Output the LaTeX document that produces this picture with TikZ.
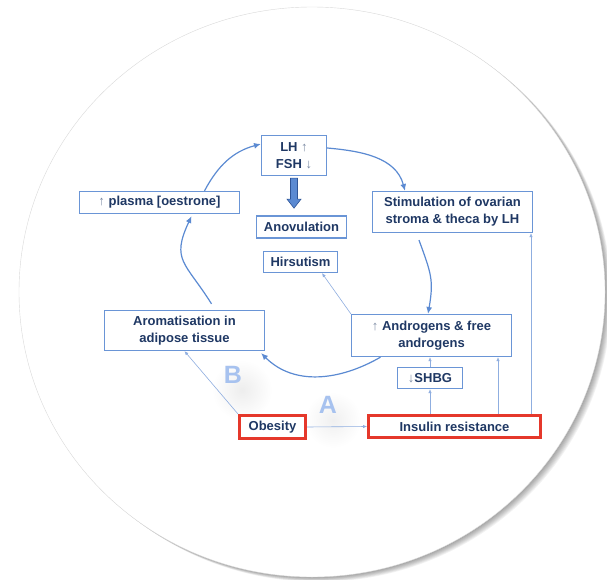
\documentclass[tikz,border=0pt]{standalone}
\usepackage{fontspec}
\setmainfont{Liberation Sans}
\usepackage{tikz}
\usetikzlibrary{arrows.meta,positioning}
\definecolor{Navy}{HTML}{1F3864}
\definecolor{BoxBlue}{HTML}{6A95D6}
\definecolor{LineBlue}{HTML}{5B8AD2}
\definecolor{DeepBlue}{HTML}{2F5597}
\definecolor{PaleBlue}{HTML}{8FAEE0}
\definecolor{KeyRed}{HTML}{E5382B}
\definecolor{LetterBlue}{HTML}{A7C2EF}
\newcommand{\incr}{{\mdseries\color{Navy!60}↑}}
\newcommand{\decr}{{\mdseries\color{Navy!60}↓}}

\begin{document}
\begin{tikzpicture}[
    x=1pt, y=1pt,
    factor/.style={
        rectangle,
        draw=BoxBlue,
        line width=1.3pt,
        fill=white,
        inner sep=0pt,
        align=center,
        text=Navy,
        font=\bfseries\fontsize{13}{17}\selectfont
    },
    keybox/.style={factor, draw=KeyRed, line width=3pt},
    arrow/.style={-{Latex[length=2.4mm, width=2.1mm]}, line width=1.2pt, draw=LineBlue},
    feed/.style={-{Latex[length=1.4mm, width=1.2mm]}, line width=0.6pt, draw=PaleBlue},
    letter/.style={font=\bfseries\fontsize{25}{25}\selectfont, text=LetterBlue}
]
    \useasboundingbox (0,0) rectangle (607,-580);

    % round backdrop with its shadow
    \foreach \s in {1,...,8}
        \fill[black, opacity=0.05] (312+\s*0.8,-292-\s*0.6) ellipse [x radius=293, y radius=285];
    \fill[white, draw=black!15, line width=0.4pt] (312,-292) ellipse [x radius=293, y radius=285];
    \shade[inner color=black!7, outer color=white] (242,-390) circle (30);
    \shade[inner color=black!6, outer color=white] (333,-420) circle (28);

    \node[factor, minimum width=65pt, minimum height=40pt] (lhfsh) at (294,-155.5) {LH \incr\\FSH \decr};
    \node[factor, minimum width=160pt, minimum height=22pt] (oestrone) at (159.5,-202.5) {\incr{} plasma [oestrone]};
    \node[factor, minimum width=90pt, minimum height=22pt] (anov) at (301.5,-227) {Anovulation};
    \node[factor, minimum width=160pt, minimum height=41pt] (stim) at (452.5,-212) {Stimulation of ovarian\\stroma \& theca by LH};
    \node[factor, minimum width=74pt, minimum height=21pt] (hirs) at (300.5,-262) {Hirsutism};
    \node[factor, minimum width=160pt, minimum height=40pt] (arom) at (184.5,-330.5) {Aromatisation in\\adipose tissue};
    \node[factor, minimum width=160pt, minimum height=42pt] (andr) at (431.5,-335.5) {\incr{} Androgens \& free\\androgens};
    \node[factor, minimum width=65pt, minimum height=21pt] (shbg) at (430,-378) {\decr SHBG};
    \node[keybox, minimum width=66pt, minimum height=23pt] (obes) at (272.5,-427) {Obesity};
    \node[keybox, minimum width=172pt, minimum height=22pt] (insul) at (454.5,-426.5) {Insulin resistance};

    \node[letter] (labB) at (233,-375) {B};
    \node[letter] (labA) at (328,-405) {A};

    % the cycle
    \draw[arrow] ([xshift=45pt]oestrone.north) to[out=62, in=195] ([yshift=11.5pt]lhfsh.west);
    \draw[arrow] ([yshift=7.5pt]lhfsh.east) to[out=-5, in=105] ([xshift=-47.5pt]stim.north);
    \draw[arrow] ([xshift=-33.5pt, yshift=-7pt]stim.south) to[out=-70, in=80, looseness=1.2] ([xshift=-3.5pt]andr.north);
    \draw[arrow] ([xshift=-51pt]andr.south) to[out=-150, in=-45] ([xshift=-4pt, yshift=-2pt]arom.south east);
    \draw[arrow] ([xshift=27pt, yshift=6pt]arom.north) to[out=122, in=-115, looseness=1.4] ([xshift=32pt, yshift=-2pt]oestrone.south);

    % block arrow to anovulation
    \filldraw[draw=DeepBlue, fill=LineBlue, line width=0.6pt]
        ([xshift=-3.5pt, yshift=-2pt]lhfsh.south) -- ++(0,-21) -- ++(-3.5,0) -- ++(7,-9)
        -- ++(7,9) -- ++(-3.5,0) -- ++(0,21) -- cycle;

    % thin links
    \draw[feed] (andr.north west) -- ([xshift=21.5pt]hirs.south);
    \draw[feed] (obes.north west) -- (arom.south);
    \draw[feed] (obes.east) -- (insul.west);
    \draw[feed] (insul.north -| shbg.south) -- (shbg.south);
    \draw[feed] (shbg.north) -- (shbg.north |- andr.south);
    \draw[feed] ([xshift=43.5pt]insul.north) -- ([xshift=43.5pt]insul.north |- andr.south);
    \draw[feed] ([xshift=76.5pt]insul.north) -- ([xshift=76.5pt]insul.north |- stim.south);
\end{tikzpicture}
\end{document}
